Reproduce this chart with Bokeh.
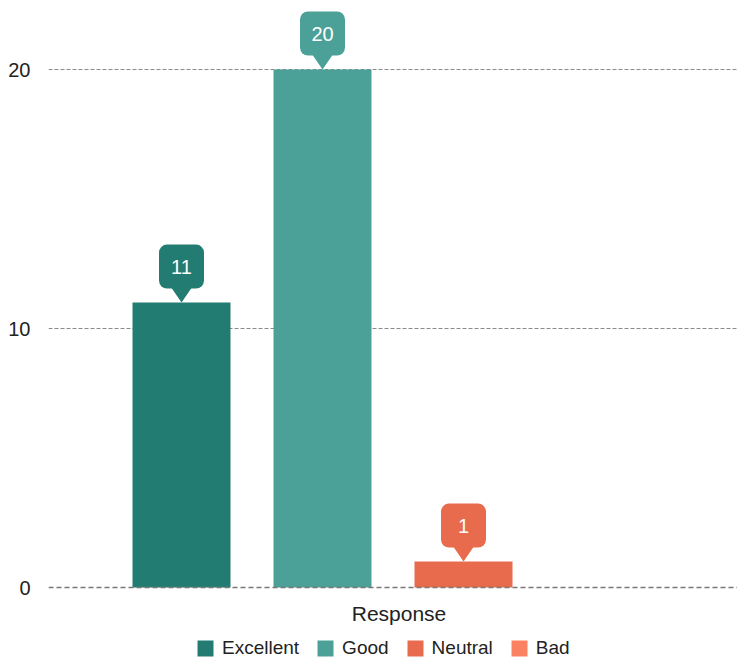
from bokeh.plotting import figure
from bokeh.models import Range1d, Legend, LegendItem, FixedTicker, Span, Label, ColumnDataSource
from bokeh.core.properties import value
from bokeh.embed import file_html
from bokeh.resources import INLINE

categories = ["Excellent", "Good", "Neutral", "Bad"]
counts = [11, 20, 1, 0]
colors = ["#227C72", "#4BA198", "#E76B4C", "#FB8163"]
y_ticks = [0, 10, 20]
x_title = "Response"

FONT = "Liberation Sans"
W, H = 737, 664
LEFT, TOP = 48, 5
PX_PER_UNIT = 25.9      # vertical pixels per count
ZERO_PX = 587           # pixel row of the zero line
PX_PER_SLOT = 141.0     # horizontal pixels per bar slot

n = len(categories)
center = (n - 1) / 2
half_span = (W - LEFT) / 2 / PX_PER_SLOT

p = figure(width=W, height=H, output_backend="svg", toolbar_location=None,
           x_axis_location=None,
           min_border_left=LEFT, min_border_right=0, min_border_top=TOP, min_border_bottom=0,
           x_range=Range1d(center - half_span, center + half_span),
           y_range=Range1d(-(H - ZERO_PX) / PX_PER_UNIT, (ZERO_PX - TOP) / PX_PER_UNIT))
p.outline_line_color = None
p.background_fill_color = "white"
p.border_fill_color = "white"

xs = list(range(n))
src = ColumnDataSource(dict(x=xs, top=counts, color=colors, cat=categories))
bars = p.vbar(x="x", top="top", bottom=0, width=98 / PX_PER_SLOT, source=src,
              fill_color="color", line_color=None)

# callouts
cx, cy, ctext, ccol, tri_x, tri_y = [], [], [], [], [], []
for i, v, c in zip(xs, counts, colors):
    if v <= 0:
        continue
    cx.append(i)
    cy.append(v + 36 / PX_PER_UNIT)
    ctext.append(str(v))
    ccol.append(c)
    hw = 11 / PX_PER_SLOT
    base = v + 16 / PX_PER_UNIT
    tri_x.append([i - hw, i + hw, i])
    tri_y.append([base, base, v])

p.patches(xs=tri_x, ys=tri_y, fill_color=ccol, line_color=None)
csrc = ColumnDataSource(dict(x=cx, y=cy, t=ctext, c=ccol))
p.rect(x="x", y="y", width=45, height=44, width_units="screen", height_units="screen",
       fill_color="c", line_color=None, border_radius=8, source=csrc)
p.text(x="x", y="y", text="t", source=csrc, text_color="white", text_align="center",
       text_baseline="middle", text_font=value(FONT), text_font_size="20px")

# axes & grid
p.yaxis.ticker = FixedTicker(ticks=y_ticks)
p.yaxis.axis_line_color = None
p.yaxis.major_tick_line_color = None
p.yaxis.minor_tick_line_color = None
p.yaxis.major_label_text_font_size = "20px"
p.yaxis.major_label_text_font = FONT
p.yaxis.major_label_text_color = "#222222"
p.yaxis.major_label_standoff = 12
p.xgrid.visible = False
p.ygrid.ticker = FixedTicker(ticks=[t for t in y_ticks if t != 0])
p.ygrid.grid_line_color = "#8a8a8a"
p.ygrid.grid_line_dash = "4 2"
p.ygrid.grid_line_width = 1

p.add_layout(Span(location=0, dimension="width", line_color="#777777",
                  line_dash="5 3", line_width=1.5))

p.add_layout(Label(x=center + 6 / PX_PER_SLOT, y=-(613 - ZERO_PX) / PX_PER_UNIT, text=x_title,
                   text_align="center", text_baseline="alphabetic", text_font=FONT,
                   text_font_size="21px", text_color="#222222"))

items = [LegendItem(label=cat, renderers=[bars], index=i) for i, cat in enumerate(categories)]
legend = Legend(items=items, orientation="horizontal", location=(195 - LEFT, 5),
                padding=0, margin=0, border_line_color=None, background_fill_alpha=0,
                glyph_width=20, glyph_height=20, label_standoff=7, spacing=16,
                label_text_font=FONT, label_text_font_size="19px", label_text_color="#222222",
                label_height=20)
p.add_layout(legend)

open("out.html", "w").write(file_html(p, INLINE))
